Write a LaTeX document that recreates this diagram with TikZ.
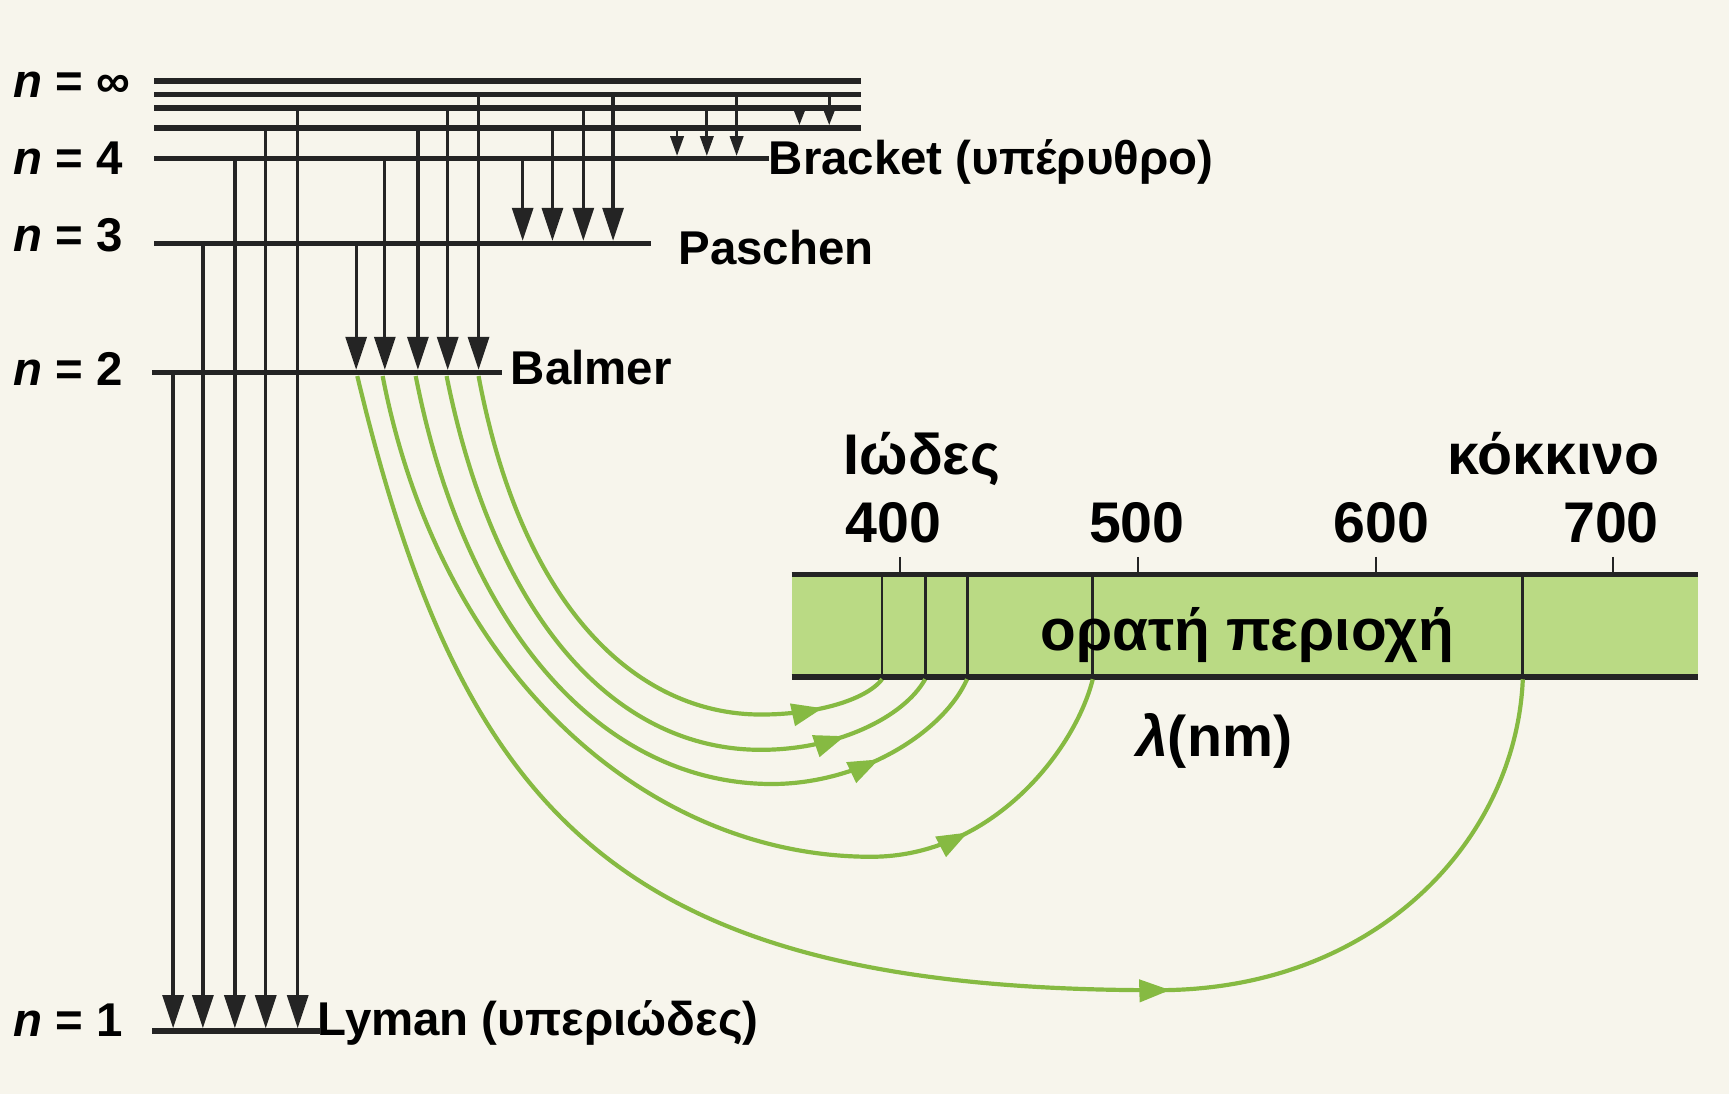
\documentclass[tikz,border=0pt]{standalone}
\usepackage{fontspec}
\setmainfont{Liberation Sans}
\usetikzlibrary{arrows.meta,decorations.markings}
\definecolor{bg}{RGB}{247,245,236}
\definecolor{bandgreen}{RGB}{186,218,132}
\definecolor{raygreen}{RGB}{134,186,66}
\definecolor{ink}{RGB}{36,36,36}
\begin{document}
\begin{tikzpicture}[x=1pt,y=-1pt,
  level/.style={ink, line width=4.8pt},
  bigdown/.style={ink, line width=3pt, -{Triangle[length=30pt,width=19pt]}},
  meddown/.style={ink, line width=2.6pt, -{Triangle[length=18pt,width=12pt]}},
  smalldown/.style={ink, line width=2.4pt, -{Triangle[length=14pt,width=10pt]}},
  lbl/.style={font=\fontsize{43}{50}\selectfont\bfseries, anchor=base west, inner sep=0pt, text=black},
  big/.style={font=\fontsize{52}{60}\selectfont\bfseries, inner sep=0pt, text=black},
  ray/.style={raygreen, line width=3.8pt, postaction={decorate},
    decoration={markings, mark=at position #1 with {\arrow[raygreen]{Triangle[length=28pt,width=20pt]}}}}
]
\useasboundingbox (0,0) rectangle (1568,992);
\fill[bg] (0,0) rectangle (1568,992);

% energy levels
\draw[level] (140,73.5) -- (781,73.5);
\draw[level] (140,86) -- (781,86);
\draw[level] (140,98) -- (781,98);
\draw[level] (140,116) -- (781,116);
\draw[level] (140,144) -- (697,144);
\draw[level] (140,221) -- (590,221);
\draw[level] (138,338) -- (455,338);
\draw[level] (138,935) -- (290,935);

% Lyman
\foreach \x/\y in {157/338, 184/221, 213/144, 241/116, 270/98}
  \draw[bigdown] (\x,\y) -- (\x,932.5);
% Balmer
\foreach \x/\y in {323/221, 349/144, 379/116, 406/98, 434/86}
  \draw[bigdown] (\x,\y) -- (\x,335.5);
% Paschen
\foreach \x/\y in {474/144, 501/116, 529/98, 556/86}
  \draw[bigdown] (\x,\y) -- (\x,218.5);
% Bracket
\foreach \x/\y in {614/116, 641/98, 668/86}
  \draw[meddown] (\x,\y) -- (\x,141.5);
% Pfund
\foreach \x/\y in {725/98, 752/86}
  \draw[smalldown] (\x,\y) -- (\x,113.5);

% level labels
\node[lbl] (ninf) at (12,88) {\textit{n} = ∞};
\node[lbl] (n4) at (12,158) {\textit{n} = 4};
\node[lbl] (n3) at (12,228) {\textit{n} = 3};
\node[lbl] (n2) at (12,350) {\textit{n} = 2};
\node[lbl] (n1) at (12,940) {\textit{n} = 1};

% series labels
\node[lbl] (brackett) at (697,158) {Bracket (υπέρυθρο)};
\node[lbl] (paschen) at (615,240) {Paschen};
\node[lbl] (balmer) at (463,349) {Balmer};
\node[lbl] (lyman) at (288,939) {Lyman (υπεριώδες)};

% spectrum band
\fill[bandgreen] (718,521) rectangle (1540,614);
\draw[ink, line width=4.8pt] (718,521) -- (1540,521);
\draw[ink, line width=4.8pt] (718,614) -- (1540,614);
\draw[ink, line width=1.5pt] (800,521) -- (800,614);
\draw[ink, line width=2.6pt] (839,521) -- (839,614);
\draw[ink, line width=2.8pt] (877,521) -- (877,614);
\draw[ink, line width=2.4pt] (991,521) -- (991,614);
\draw[ink, line width=2.4pt] (1381,521) -- (1381,614);
\foreach \x in {816,1032,1248,1463}
  \draw[ink, line width=2.2pt] (\x,505) -- (\x,521);

\node[big, anchor=base west] (violet) at (765,430) {Ιώδες};
\node[big, anchor=base east] (red) at (1505,430) {κόκκινο};
\node[big, anchor=base] (w400) at (810,492) {400};
\node[big, anchor=base] (w500) at (1031,492) {500};
\node[big, anchor=base] (w600) at (1253,492) {600};
\node[big, anchor=base] (w700) at (1461,492) {700};
\node[big, anchor=base, font=\fontsize{53}{60}\selectfont\bfseries] (vis) at (1131,590) {ορατή περιοχή};
\node[big, anchor=base] (lam) at (1101,686) {\textit{λ}(nm)};

% Balmer rays: from n=2 to the spectral lines
\coordinate (b1) at (324,341); \coordinate (s1) at (1381,616);
\coordinate (b2) at (347,341); \coordinate (s2) at (991,616);
\coordinate (b3) at (377,341); \coordinate (s3) at (877,616);
\coordinate (b4) at (405,341); \coordinate (s4) at (839,616);
\coordinate (b5) at (434,341); \coordinate (s5) at (800,616);
\draw[ray=-470pt] (b1) .. controls (420,740) and (560,898) .. (1050,898)
  .. controls (1250,898) and (1375,760) .. (s1);
\draw[ray=-184pt] (b2) .. controls (400,615) and (590,777) .. (790,777)
  .. controls (900,777) and (975,680) .. (s2);
\draw[ray=-110pt] (b3) .. controls (425,585) and (555,711) .. (700,711)
  .. controls (780,711) and (855,665) .. (s3);
\draw[ray=-91pt] (b4) .. controls (450,565) and (560,680) .. (690,680)
  .. controls (760,680) and (820,650) .. (s4);
\draw[ray=-61pt] (b5) .. controls (474,555) and (580,648) .. (690,648)
  .. controls (740,648) and (785,635) .. (s5);
\end{tikzpicture}
\end{document}
